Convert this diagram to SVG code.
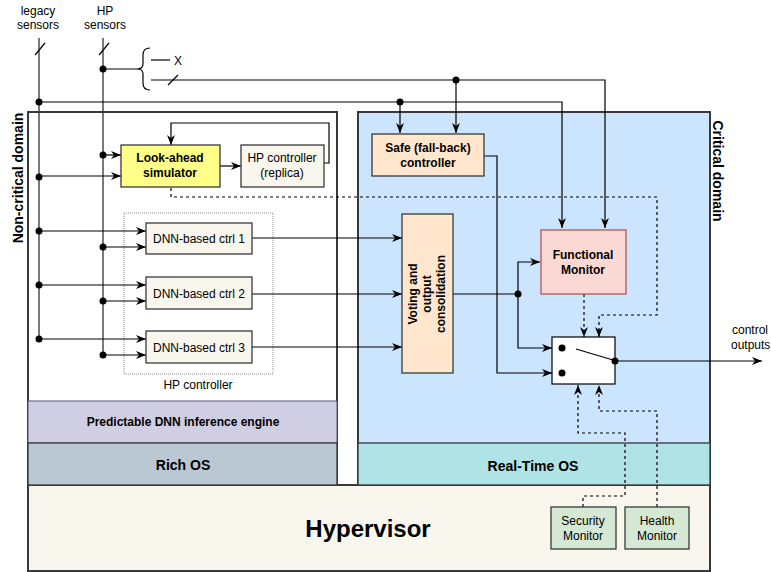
<svg xmlns="http://www.w3.org/2000/svg" width="771" height="572" viewBox="0 0 771 572">
<defs>
<marker id="arr" viewBox="0 0 10 8" markerWidth="10" markerHeight="8" refX="10" refY="4" orient="auto" markerUnits="userSpaceOnUse">
<path d="M0,0 L10,4 L0,8 L3,4 z" fill="#000"/>
</marker>
<style>
text{font-family:"Liberation Sans",Arial,sans-serif;fill:#000}
.t12{font-size:12px}
.b12{font-size:12px;font-weight:bold}
.b14{font-size:14px;font-weight:bold}
.c{text-anchor:middle}
.ln{fill:none;stroke:#000;stroke-width:1.2}
.bus{fill:none;stroke:#333;stroke-width:1.3}
.da{fill:none;stroke:#000;stroke-width:1.2;stroke-dasharray:3,3}
.ar{marker-end:url(#arr)}
.box{stroke:#36393d;stroke-width:1.3}
.dot{fill:#000}
</style>
</defs>

<g id="hypervisor">
<rect x="28" y="485" width="682" height="86" fill="#f9f7ed" stroke="#36393d" stroke-width="2"/>
<text x="368" y="537" class="c" style="font-size:24px;font-weight:bold">Hypervisor</text>
</g>

<g id="noncritical-domain">
<rect x="28" y="112" width="309" height="373" fill="#fff" stroke="#36393d" stroke-width="2"/>
<text transform="translate(23,178) rotate(-90)" class="b14 c">Non-critical domain</text>
</g>
<g id="dnn-engine">
<rect x="28" y="401" width="309" height="42" fill="#d0cee2" stroke="#56517e" stroke-width="1"/>
<text x="183" y="426" class="b12 c">Predictable DNN inference engine</text>
</g>
<g id="rich-os">
<rect x="28" y="443" width="309" height="42" fill="#bac8d3" stroke="#36393d" stroke-width="1.3"/>
<text x="183" y="470" class="b14 c">Rich OS</text>
</g>

<g id="critical-domain">
<rect x="358" y="112" width="352" height="373" fill="#cce5ff" stroke="#36393d" stroke-width="2"/>
<text transform="translate(713,171) rotate(90)" class="b14 c">Critical domain</text>
</g>
<g id="rtos">
<rect x="358" y="443" width="352" height="42" fill="#b0e3e6" stroke="#36393d" stroke-width="1.3"/>
<text x="533" y="471" class="b14 c">Real-Time OS</text>
</g>

<g id="labels">
<text x="38" y="15" class="t12 c">legacy</text>
<text x="38" y="29" class="t12 c">sensors</text>
<text x="105" y="15" class="t12 c">HP</text>
<text x="105" y="29" class="t12 c">sensors</text>
<text x="174" y="65" class="t12">X</text>
<text x="732" y="334" class="t12">control</text>
<text x="731" y="349" class="t12">outputs</text>
</g>

<g id="hp-controller-group">
<rect x="124" y="213" width="149" height="161" fill="none" stroke="#888" stroke-width="1" stroke-dasharray="1,1"/>
<text x="198" y="389" class="t12 c">HP controller</text>
</g>

<g id="connectors">
<!-- sensor buses -->
<path class="bus" d="M39,38 V339"/>
<path class="bus" d="M103,38 V355"/>
<path class="ln" d="M35,55 L45,43"/>
<path class="ln" d="M99,55 L109,43"/>
<path class="ln" d="M103,69 H137"/>
<path class="ln" d="M150,48 Q143,48 143,55 L143,64 Q143,69 137,69 Q143,69 143,74 L143,83 Q143,90 150,90"/>
<path class="ln" d="M151,60 H170"/>
<path class="ln" d="M151,80 H605 V228" marker-end="url(#arr)"/>
<path class="ln" d="M168,85 L178,75"/>
<path class="ln" d="M39,102 H562 V228" marker-end="url(#arr)"/>
<path class="ln ar" d="M400,102 V133"/>
<path class="ln ar" d="M456,80 V133"/>
<!-- simulator -->
<path class="ln ar" d="M103,155 H121"/>
<path class="ln ar" d="M39,176 H121"/>
<path class="ln ar" d="M220,166 H241"/>
<path class="ln ar" d="M324,163 H329 V123 H171 V145"/>
<path class="da ar" d="M171,188 V197 H657 V315 H599 V337"/>
<!-- DNN inputs -->
<path class="ln ar" d="M39,231 H146"/>
<path class="ln ar" d="M103,247 H146"/>
<path class="ln ar" d="M39,285 H146"/>
<path class="ln ar" d="M103,301 H146"/>
<path class="ln ar" d="M39,339 H146"/>
<path class="ln ar" d="M103,355 H146"/>
<!-- DNN outputs -->
<path class="ln ar" d="M252,238 H402"/>
<path class="ln ar" d="M252,294 H402"/>
<path class="ln ar" d="M252,347 H402"/>
<!-- voting output -->
<path class="ln" d="M453,294 H518"/>
<path class="ln ar" d="M518,294 V262 H540"/>
<path class="ln ar" d="M518,294 V348 H552"/>
<!-- safe ctrl output -->
<path class="ln ar" d="M484,156 H497 V373 H552"/>
<!-- FM to switch -->
<path class="da ar" d="M584,294 V337"/>
<!-- monitors -->
<path class="da ar" d="M583,507 V496 H625 V433 H578 V385"/>
<path class="da ar" d="M657,507 V411 H599 V385"/>
<!-- output -->
<path class="ln ar" d="M615,361 H762"/>
<!-- dots -->
<circle class="dot" cx="103" cy="69" r="3.5"/>
<circle class="dot" cx="39" cy="102" r="3.5"/>
<circle class="dot" cx="400" cy="102" r="3.5"/>
<circle class="dot" cx="456" cy="80" r="3.5"/>
<circle class="dot" cx="103" cy="155" r="3.5"/>
<circle class="dot" cx="39" cy="177" r="3.5"/>
<circle class="dot" cx="39" cy="231" r="3.5"/>
<circle class="dot" cx="103" cy="247" r="3.5"/>
<circle class="dot" cx="39" cy="285" r="3.5"/>
<circle class="dot" cx="103" cy="301" r="3.5"/>
<circle class="dot" cx="39" cy="339" r="3.5"/>
<circle class="dot" cx="103" cy="355" r="3.5"/>
<circle class="dot" cx="518" cy="294" r="3.5"/>
</g>

<g id="look-ahead-simulator">
<rect x="121" y="145" width="99" height="42" fill="#ffff88" class="box"/>
<text x="170" y="162" class="b12 c">Look-ahead</text>
<text x="170" y="177" class="b12 c">simulator</text>
</g>
<g id="hp-replica">
<rect x="241" y="145" width="83" height="42" fill="#f9f7ed" class="box"/>
<text x="282" y="162" class="t12 c">HP controller</text>
<text x="282" y="177" class="t12 c">(replica)</text>
</g>
<g id="dnn1">
<rect x="146" y="223" width="106" height="31" fill="#f9f7ed" class="box"/>
<text x="199" y="243" class="t12 c">DNN-based ctrl 1</text>
</g>
<g id="dnn2">
<rect x="146" y="277" width="106" height="32" fill="#f9f7ed" class="box"/>
<text x="199" y="298" class="t12 c">DNN-based ctrl 2</text>
</g>
<g id="dnn3">
<rect x="146" y="331" width="106" height="32" fill="#f9f7ed" class="box"/>
<text x="199" y="352" class="t12 c">DNN-based ctrl 3</text>
</g>
<g id="safe-controller">
<rect x="372" y="134" width="112" height="42" fill="#ffe6cc" class="box"/>
<text x="428" y="152" class="b12 c">Safe (fall-back)</text>
<text x="428" y="167" class="b12 c">controller</text>
</g>
<g id="voting">
<rect x="402" y="214" width="51" height="159" fill="#ffe6cc" class="box"/>
<text transform="translate(427,294) rotate(-90)" class="b12 c"><tspan x="0" y="-10">Voting and</tspan><tspan x="0" y="4">output</tspan><tspan x="0" y="18">consolidation</tspan></text>
</g>
<g id="functional-monitor">
<rect x="541" y="230" width="85" height="64" fill="#fad9d5" stroke="#b85450" stroke-width="1.3"/>
<text x="583" y="259" class="b12 c">Functional</text>
<text x="583" y="274" class="b12 c">Monitor</text>
</g>
<g id="switch">
<rect x="552" y="337" width="63" height="47" fill="#fff" stroke="#000" stroke-width="1.2"/>
<circle class="dot" cx="562" cy="348" r="3.5"/>
<circle class="dot" cx="562" cy="373" r="3.5"/>
<path class="ln" d="M576,349 L613,360"/>
<circle class="dot" cx="615" cy="361" r="3.5"/>
</g>
<g id="security-monitor">
<rect x="551" y="507" width="65" height="42" fill="#d5e8d4" class="box"/>
<text x="583" y="525" class="t12 c">Security</text>
<text x="583" y="540" class="t12 c">Monitor</text>
</g>
<g id="health-monitor">
<rect x="625" y="507" width="64" height="42" fill="#d5e8d4" class="box"/>
<text x="657" y="525" class="t12 c">Health</text>
<text x="657" y="540" class="t12 c">Monitor</text>
</g>
</svg>
